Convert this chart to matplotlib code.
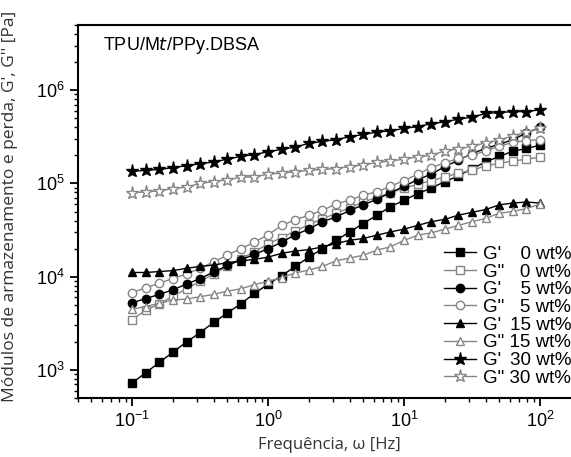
import numpy as np
import matplotlib.pyplot as plt

# frequency points, 10 per decade from 0.1 to 100 Hz
freq = 10 ** (np.arange(31) / 10 - 1)

# log10 of modulus [Pa]
gp_0 = [2.86, 2.97, 3.08, 3.19, 3.30, 3.40, 3.51, 3.61, 3.71, 3.82, 3.92,
        4.01, 4.11, 4.21, 4.30, 4.39, 4.48, 4.57, 4.66, 4.75, 4.82,
        4.89, 4.95, 5.02, 5.08, 5.16, 5.23, 5.29, 5.345, 5.375, 5.41]
gpp_0 = [3.54, 3.64, 3.71, 3.79, 3.87, 3.95, 4.03, 4.11, 4.19, 4.27, 4.35,
         4.42, 4.49, 4.56, 4.62, 4.68, 4.74, 4.80, 4.85, 4.90, 4.95,
         4.99, 5.03, 5.07, 5.11, 5.14, 5.19, 5.215, 5.24, 5.26, 5.28]
gp_5 = [3.72, 3.765, 3.81, 3.86, 3.92, 3.98, 4.05, 4.12, 4.18, 4.24, 4.30,
        4.37, 4.45, 4.51, 4.59, 4.64, 4.71, 4.77, 4.83, 4.90, 4.97,
        5.04, 5.10, 5.18, 5.25, 5.32, 5.375, 5.42, 5.47, 5.54, 5.60]
gpp_5 = [3.83, 3.88, 3.93, 3.98, 4.03, 4.09, 4.16, 4.23, 4.30, 4.37, 4.45,
         4.55, 4.61, 4.66, 4.71, 4.78, 4.82, 4.875, 4.91, 4.97, 5.03,
         5.10, 5.17, 5.22, 5.27, 5.30, 5.35, 5.40, 5.44, 5.46, 5.47]
gp_15 = [4.045, 4.045, 4.055, 4.065, 4.09, 4.11, 4.125, 4.15, 4.17, 4.185, 4.21,
         4.25, 4.275, 4.29, 4.32, 4.355, 4.39, 4.41, 4.445, 4.48, 4.51,
         4.55, 4.59, 4.615, 4.66, 4.69, 4.72, 4.77, 4.79, 4.80, 4.79]
gpp_15 = [3.65, 3.68, 3.715, 3.75, 3.76, 3.785, 3.81, 3.845, 3.87, 3.915, 3.95,
          3.99, 4.04, 4.07, 4.11, 4.17, 4.20, 4.23, 4.285, 4.32, 4.39,
          4.445, 4.47, 4.51, 4.55, 4.59, 4.625, 4.68, 4.70, 4.73, 4.78]
gp_30 = [5.13, 5.14, 5.15, 5.17, 5.19, 5.21, 5.23, 5.26, 5.29, 5.31, 5.34,
         5.365, 5.39, 5.43, 5.45, 5.47, 5.50, 5.525, 5.55, 5.565, 5.59,
         5.61, 5.64, 5.66, 5.69, 5.71, 5.75, 5.76, 5.77, 5.77, 5.79]
gpp_30 = [4.90, 4.91, 4.92, 4.945, 4.96, 5.00, 5.02, 5.04, 5.065, 5.07, 5.10,
          5.11, 5.125, 5.14, 5.15, 5.16, 5.18, 5.20, 5.225, 5.24, 5.26,
          5.285, 5.30, 5.35, 5.37, 5.40, 5.435, 5.465, 5.51, 5.55, 5.59]

series = [gp_0, gpp_0, gp_5, gpp_5, gp_15, gpp_15, gp_30, gpp_30]
F = '\u2007'   # figure space, width of one digit
T = '\u2009'   # thin space to make up for ' vs "
labels = ["G'" + T + " " + F + "0 wt%", 'G" ' + F + "0 wt%",
          "G'" + T + " " + F + "5 wt%", 'G" ' + F + "5 wt%",
          "G'" + T + " 15 wt%", 'G" 15 wt%',
          "G'" + T + " 30 wt%", 'G" 30 wt%']
markers = ['s', 's', 'o', 'o', '^', '^', '*', '*']
filled = [True, False, True, False, True, False, True, False]

plt.rcParams['font.family'] = ['Liberation Sans', 'DejaVu Sans']

fig = plt.figure(figsize=(5.71, 4.57), dpi=100)
ax = fig.add_axes([78 / 571, 59 / 457, 503 / 571, 373 / 457])

gray = '#858585'
for vals, lab, m, f in zip(series, labels, markers, filled):
    c = 'black' if f else gray
    ms = 9.5 if m == '*' else 6
    ax.plot(freq, 10 ** np.array(vals), '-', color=c, lw=1.0, marker=m, ms=ms,
            mfc=c if f else 'white', mec=c, mew=1.0, label=lab)

ax.set_xscale('log')
ax.set_yscale('log')
ax.set_xlim(0.04, 200)
ax.set_ylim(500, 5e6)

for sp in ['top', 'right', 'left', 'bottom']:
    ax.spines[sp].set_linewidth(1.5)
ax.tick_params(which='major', direction='out', length=6, width=1.3, labelsize=13)
ax.tick_params(which='minor', direction='out', length=3, width=1.0)
ax.tick_params(top=False, right=False)

ax.text(0.05, 0.972, 'TPU/M$\\it{t}$/PPy.DBSA', transform=ax.transAxes,
        fontsize=13, va='top', ha='left')

ax.set_xlabel('Frequência, ω [Hz]', family='Open Sans', fontsize=12,
              color='#333333', labelpad=4)
ax.set_ylabel("Módulos de armazenamento e perda, G', G'' [Pa]", family='Open Sans',
              fontsize=12.5, color='#333333')
ax.yaxis.set_label_coords(-0.12, 0.515)

leg = ax.legend(loc='lower right', bbox_to_anchor=(1.003, 0.0), frameon=False,
                fontsize=13.5, handlelength=1.7, handletextpad=0.35,
                labelspacing=0.03, borderaxespad=0.2)

fig.savefig('out.png', dpi=100)
